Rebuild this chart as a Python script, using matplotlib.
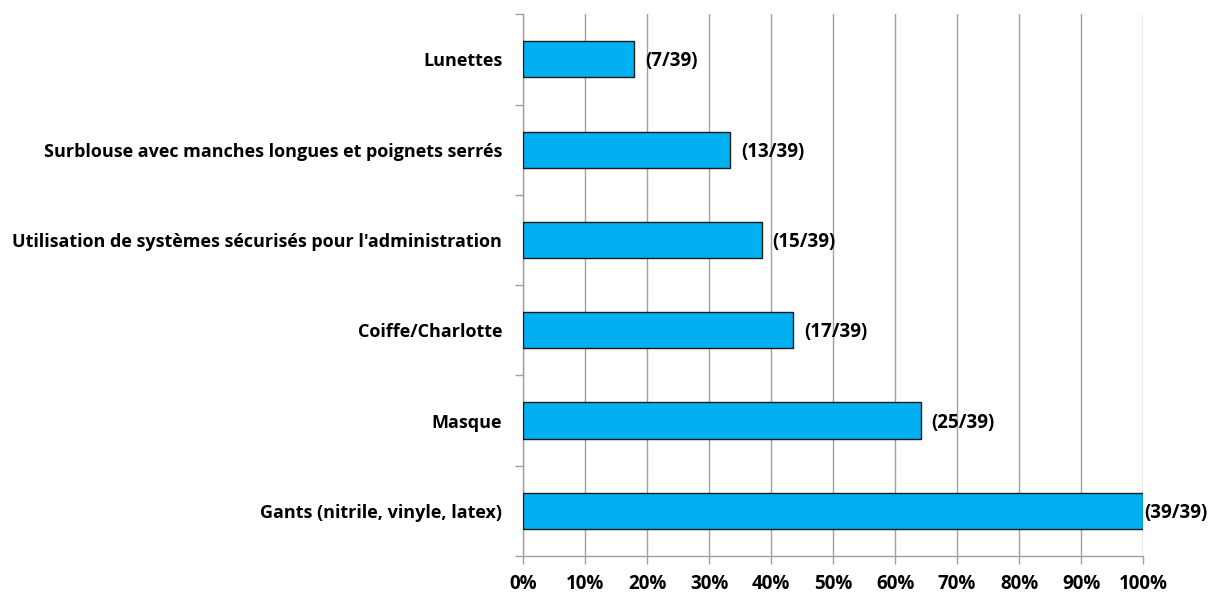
import numpy as np
import matplotlib.pyplot as plt
from matplotlib.ticker import PercentFormatter

plt.rcParams['font.family'] = ['Open Sans', 'DejaVu Sans']
plt.rcParams['font.weight'] = 'bold'

categories = ['Gants (nitrile, vinyle, latex)', 'Masque', 'Coiffe/Charlotte',
              "Utilisation de systèmes sécurisés pour l'administration",
              'Surblouse avec manches longues et poignets serrés', 'Lunettes']
counts = [39, 25, 17, 15, 13, 7]
total = 39
labels = ['(%d/%d)' % (c, total) for c in counts]
values = np.array(counts) / total

fig = plt.figure(figsize=(12.11, 5.93), dpi=100)
ax = fig.add_axes([0.432, 0.0624, 0.512, 0.9136])

y = np.arange(len(categories))
bars = ax.barh(y, values, height=0.4, color='#00B0F0', edgecolor='#1a1a1a', linewidth=1, zorder=3)

# etiquettes (n/39) a droite des barres
for b, lab, v in zip(bars, labels, values):
    pad = 1 if v >= 1 else 11
    ax.annotate(lab, (b.get_width(), b.get_y() + b.get_height() / 2),
                xytext=(pad, -2), textcoords='offset pixels',
                va='center', ha='left', fontsize=13.5, fontweight='bold', annotation_clip=False)

ax.set_xlim(0, 1)
ax.set_ylim(-0.5, len(categories) - 0.5)
ax.set_xticks(np.arange(0, 1.01, 0.1))
ax.xaxis.set_major_formatter(PercentFormatter(1.0, decimals=0))
ax.set_yticks(y)
ax.set_yticklabels(categories)
ax.set_yticks(np.arange(-0.5, len(categories), 1), minor=True)
ax.tick_params(axis='y', which='major', length=0, pad=15, labelsize=13)
ax.tick_params(axis='y', which='minor', length=6, color='#a0a0a0', width=1)
ax.tick_params(axis='x', length=6, color='#a0a0a0', width=1, labelsize=13.5, pad=7)

ax.grid(axis='x', color='#a0a0a0', linewidth=1, zorder=0)
for s in ['top', 'right']:
    ax.spines[s].set_visible(False)
for s in ['left', 'bottom']:
    ax.spines[s].set_color('#a0a0a0')
    ax.spines[s].set_linewidth(1)

fig.savefig('out.png', dpi=100)
